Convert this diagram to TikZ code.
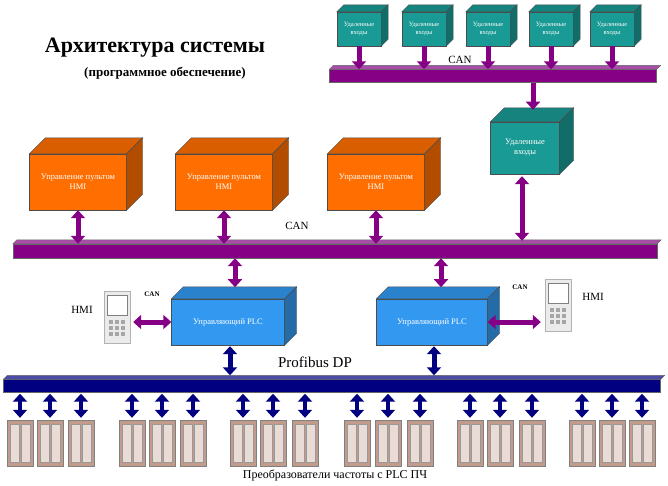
\documentclass[tikz,border=0pt]{standalone}
\usepackage{fontspec}
\setmainfont{Liberation Serif}
\usetikzlibrary{arrows.meta,calc}
\definecolor{tealbox}{HTML}{1A9A94}
\definecolor{orangebox}{HTML}{FF6E00}
\definecolor{bluebox}{HTML}{3399F0}
\definecolor{canbus}{HTML}{850085}
\definecolor{profibus}{HTML}{000080}
\definecolor{cabinet}{HTML}{A87058}
\tikzset{
  box/.style={draw=black!70, thin, fill=#1, text=white, align=center, inner sep=1pt},
  bus/.style={draw=black!60, thin, fill=#1, inner sep=0pt},
  can/.style={line width=5pt, draw=canbus, -{Triangle[length=8pt,width=14pt]}},
  cancan/.style={can, {Triangle[length=8pt,width=14pt]}-{Triangle[length=8pt,width=14pt]}},
  pb/.style={cancan, draw=profibus},
  lbl/.style={font=\fontsize{11}{13}\selectfont}
}
% top and side face of a box node
\newcommand\depth[3]{%
  \fill[#3!85!black, draw=black!70, thin] (#1.north west) -- ++(#2,-#2) -- ($(#1.north east)+(#2,-#2)$) -- (#1.north east) -- cycle;
  \fill[#3!70!black, draw=black!70, thin] (#1.north east) -- ++(#2,-#2) -- ($(#1.south east)+(#2,-#2)$) -- (#1.south east) -- cycle;}
\begin{document}
\begin{tikzpicture}[x=1pt, y=-1pt]
  \useasboundingbox (0,0) rectangle (668,485);

  \node[font=\bfseries\fontsize{22}{24}\selectfont] (title) at (155,48) {Архитектура системы};
  \node[font=\bfseries\fontsize{13}{15}\selectfont] (subtitle) at (165,73) {(программное обеспечение)};

  % remote inputs on top
  \foreach \i/\x in {1/359, 2/424, 3/488, 4/551, 5/612} {
    \node[box=tealbox, minimum width=44pt, minimum height=34pt, font=\fontsize{6.5}{8}\selectfont] (ri\i) at (\x,29) {Удаленные\\входы};
    \depth{ri\i}{7}{tealbox}
  }
  \node[bus=canbus, minimum width=327pt, minimum height=13pt] (topcan) at (493,76) {};
  \fill[canbus!70, draw=black!60, thin] (topcan.north west) -- ++(4,-4) -- ($(topcan.north east)+(4,-4)$) -- (topcan.north east) -- cycle;
  \node[lbl] (topcanlbl) at (460,60) {CAN};
  \foreach \i in {1,...,5}
    \draw[can] (ri\i.south) -- (ri\i.south |- topcan.north);

  \node[box=tealbox, minimum width=69pt, minimum height=52pt, font=\fontsize{8.5}{10}\selectfont] (remote) at (525,148) {Удаленные\\входы};
  \depth{remote}{14}{tealbox}
  \draw[can] ($(topcan.south)+(40,0)$) -- ($(topcan.south)+(40,27)$);

  % HMI control panels
  \foreach \i/\x in {1/78, 2/224, 3/376} {
    \node[box=orangebox, minimum width=97pt, minimum height=56pt, font=\fontsize{8.5}{10}\selectfont] (hmi\i) at (\x,182) {Управление пультом\\HMI};
    \depth{hmi\i}{16}{orangebox}
  }
  \node[bus=canbus, minimum width=644pt, minimum height=14pt] (can) at (335,251) {};
  \fill[canbus!70, draw=black!60, thin] (can.north west) -- ++(4,-4) -- ($(can.north east)+(4,-4)$) -- (can.north east) -- cycle;
  \node[lbl] (canlbl) at (297,226) {CAN};
  \foreach \i in {1,2,3}
    \draw[cancan] (hmi\i.south) -- (hmi\i.south |- can.north);
  \draw[cancan] ($(remote.south)+(-3,2)$) -- ($(remote.south |- can.north)+(-3,-3)$);

  % PLCs
  \node[box=bluebox, minimum width=113pt, minimum height=46pt, font=\fontsize{8.5}{10}\selectfont] (plc1) at (228,322) {Управляющий PLC};
  \depth{plc1}{12}{bluebox}
  \node[box=bluebox, minimum width=111pt, minimum height=46pt, font=\fontsize{8.5}{10}\selectfont] (plc2) at (432,322) {Управляющий PLC};
  \depth{plc2}{12}{bluebox}
  \draw[cancan] ($(can.south)+(-100,0)$) -- ($(can.south)+(-100,29)$);
  \draw[cancan] ($(can.south)+(106,0)$) -- ($(can.south)+(106,29)$);

  % operator panels
  \foreach \n/\x/\y in {lp/117/317, rp/558/305} {
    \node[draw=black!30, fill=black!8, minimum width=26pt, minimum height=52pt, inner sep=0pt] (\n) at (\x,\y) {};
    \fill[white, draw=black!50] ($(\n.north west)+(3,4)$) rectangle ($(\n.north east)+(-3,24)$);
    \foreach \r in {0,1,2} \foreach \c in {0,1,2}
      \fill[black!35] ($(\n.north west)+(5+\c*6,29+\r*6)$) rectangle ++(4,4);
  }
  \node[lbl] (lhmi) at (82,310) {HMI};
  \node[lbl] (rhmi) at (593,297) {HMI};
  \node[font=\bfseries\scriptsize] (lcan) at (152,294) {CAN};
  \node[font=\bfseries\scriptsize] (rcan) at (520,287) {CAN};
  \draw[cancan] (lp.east |- plc1.west) ++(3,0) -- (plc1.west);
  \draw[cancan] (plc2.east) -- ($(rp.west |- plc2.east)+(-4,0)$);

  % Profibus
  \node[bus=profibus, minimum width=657pt, minimum height=13pt] (pbus) at (332,386) {};
  \fill[profibus!70, draw=black!60, thin] (pbus.north west) -- ++(4,-4) -- ($(pbus.north east)+(4,-4)$) -- (pbus.north east) -- cycle;
  \node[font=\fontsize{15}{17}\selectfont] (pblbl) at (315,362) {Profibus DP};
  \draw[pb] ($(plc1.south)+(2,1)$) -- ($(plc1.south |- pbus.north)+(2,-4)$);
  \draw[pb] ($(plc2.south)+(2,1)$) -- ($(plc2.south |- pbus.north)+(2,-4)$);

  % frequency converters
  \foreach \i/\x in {1/20,2/50,3/81,4/132,5/162,6/193,7/243,8/273,9/305,10/357,11/388,12/420,13/470,14/500,15/532,16/582,17/612,18/642} {
    \node[draw=black!50, fill=cabinet!70, minimum width=26pt, minimum height=46pt, inner sep=0pt] (fc\i) at (\x,443) {};
    \fill[cabinet!25, draw=black!40] ($(fc\i.north west)+(3,4)$) rectangle ($(fc\i.south)+(-1,-4)$);
    \fill[cabinet!25, draw=black!40] ($(fc\i.north)+(1,4)$) rectangle ($(fc\i.south east)+(-3,-4)$);
    \draw[pb, line width=4pt] ($(pbus.south -| fc\i.north)+(0,1)$) -- ($(fc\i.north)+(0,-2)$);
  }
  \node[font=\fontsize{12}{14}\selectfont] (fclbl) at (335,475) {Преобразователи частоты с PLC ПЧ};
\end{tikzpicture}
\end{document}
